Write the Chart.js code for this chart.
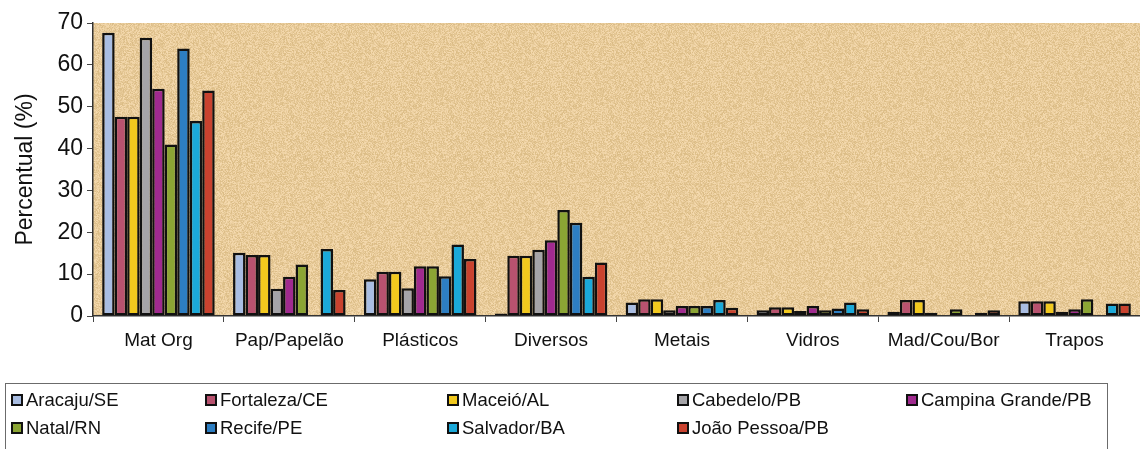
<!DOCTYPE html>
<html>
<head>
<meta charset="utf-8">
<title>Composição gravimétrica dos resíduos</title>
<script src="https://cdn.jsdelivr.net/npm/chart.js@4/dist/chart.umd.min.js"></script>
<style>
  html, body { margin: 0; padding: 0; background: #ffffff; }
  #wrap { width: 1140px; height: 449px; position: relative; }
</style>
</head>
<body>
<div id="wrap"><canvas id="c" width="1140" height="449"></canvas></div>
<script>
// Waste categories (x axis)
const categories = ['Mat Org', 'Pap/Papelão', 'Plásticos', 'Diversos', 'Metais', 'Vidros', 'Mad/Cou/Bor', 'Trapos'];

// Percentage per city, one value per category (null = not reported)
const aracaju       = [67.7, 15.1,  8.8,  0.6, 3.2, 1.4, 1.0, 3.5];
const fortaleza     = [47.6, 14.6, 10.6, 14.4, 4.0, 2.1, 3.8, 3.5];
const maceio        = [47.6, 14.6, 10.6, 14.4, 4.0, 2.1, 3.8, 3.5];
const cabedelo      = [66.5,  6.5,  6.6, 15.8, 1.4, 1.2, 0.8, 1.0];
const campinaGrande = [54.3,  9.4, 11.9, 18.1, 2.4, 2.4, null, 1.6];
const natal         = [41.0, 12.3, 11.9, 25.3, 2.4, 1.4, 1.6, 4.0];
const recife        = [63.9, null,  9.5, 22.3, 2.4, 1.8, null, null];
const salvador      = [46.6, 16.0, 17.1,  9.4, 3.8, 3.2, 0.8, 3.0];
const joaoPessoa    = [53.9,  6.2, 13.6, 12.8, 2.0, 1.6, 1.4, 3.0];

const cityNames  = ['Aracaju/SE', 'Fortaleza/CE', 'Maceió/AL', 'Cabedelo/PB', 'Campina Grande/PB',
                    'Natal/RN', 'Recife/PE', 'Salvador/BA', 'João Pessoa/PB'];
const cityValues = [aracaju, fortaleza, maceio, cabedelo, campinaGrande, natal, recife, salvador, joaoPessoa];
const cityColors = ['#a9bde2', '#b8526f', '#f2c91e', '#a5a4a8', '#a02a8f',
                    '#8ba534', '#2d7ec2', '#1ba9d9', '#c9422f'];

// Y axis ticks
const yTicks = [0, 10, 20, 30, 40, 50, 60, 70];

const FONT = "'Liberation Sans', Arial, sans-serif";

// Speckled parchment fill for the plot area
function makeParchment() {
  const size = 160;
  const cv = document.createElement('canvas');
  cv.width = size; cv.height = size;
  const g = cv.getContext('2d');
  const img = g.createImageData(size, size);
  for (let y = 0; y < size; y++) {
    for (let x = 0; x < size; x++) {
      let h = (x * 374761393 + y * 668265263) | 0;
      h = Math.imul(h ^ (h >>> 13), 1274126177);
      h = (h ^ (h >>> 16)) >>> 0;
      const n = (h % 1000) / 1000 - 0.5;
      const i = (y * size + x) * 4;
      img.data[i]     = 232 + n * 28;
      img.data[i + 1] = 203 + n * 32;
      img.data[i + 2] = 154 + n * 44;
      img.data[i + 3] = 255;
    }
  }
  g.putImageData(img, 0, 0);
  return cv;
}

const parchmentPlugin = {
  id: 'parchment',
  beforeDraw(chart) {
    const { ctx, chartArea: a } = chart;
    ctx.save();
    ctx.fillStyle = ctx.createPattern(makeParchment(), 'repeat');
    ctx.fillRect(a.left, a.top, a.right - a.left, a.bottom - a.top);
    ctx.restore();
  }
};

// Two-row legend in a framed box below the axis
const boxLegendPlugin = {
  id: 'boxLegend',
  afterDraw(chart) {
    const ctx = chart.ctx;
    const colX = [11, 205, 447, 677, 906];
    const rowY = [400, 428];
    ctx.save();
    ctx.strokeStyle = '#6b6b6b';
    ctx.lineWidth = 1;
    ctx.strokeRect(5.5, 383.5, 1102, 80);
    ctx.font = '18.5px ' + FONT;
    ctx.textBaseline = 'middle';
    chart.data.datasets.forEach((ds, i) => {
      const x = colX[i % 5];
      const y = rowY[Math.floor(i / 5)];
      ctx.fillStyle = '#111';
      ctx.fillRect(x, y - 6, 12, 12);
      ctx.fillStyle = ds.backgroundColor;
      ctx.fillRect(x + 2, y - 4, 8, 8);
      ctx.fillStyle = '#111';
      ctx.fillText(ds.label, x + 15, y + 1);
    });
    ctx.restore();
  }
};

const datasets = cityNames.map((name, i) => ({
  label: name,
  data: cityValues[i],
  backgroundColor: cityColors[i],
  borderColor: '#111111',
  borderWidth: 2.5,
  borderSkipped: false,
  categoryPercentage: 0.86,
  barPercentage: 1.0
}));

new Chart(document.getElementById('c'), {
  type: 'bar',
  data: { labels: categories, datasets },
  options: {
    responsive: false,
    animation: false,
    layout: { padding: { top: 23, right: 0, bottom: 89, left: 0 } },
    plugins: {
      legend: { display: false },
      tooltip: { enabled: false }
    },
    scales: {
      x: {
        grid: { display: true, drawOnChartArea: false, drawTicks: true, tickLength: 6, color: '#444', offset: true },
        border: { display: true, color: '#333', width: 1.5 },
        ticks: { color: '#111', font: { family: FONT, size: 19 }, padding: 7, maxRotation: 0, autoSkip: false },
        afterFit(scale) { scale.height = 44; }
      },
      y: {
        min: 0,
        max: 70,
        afterBuildTicks(scale) { scale.ticks = yTicks.map(v => ({ value: v })); },
        grid: { display: true, drawOnChartArea: false, drawTicks: true, tickLength: 6, color: '#444' },
        border: { display: true, color: '#333', width: 1.5 },
        ticks: { color: '#111', font: { family: FONT, size: 23 }, padding: 4 },
        title: { display: true, text: 'Percentual (%)', color: '#111', font: { family: FONT, size: 23 }, padding: { top: 12, bottom: 0 } },
        afterFit(scale) { scale.width = 93; }
      }
    }
  },
  plugins: [parchmentPlugin, boxLegendPlugin]
});
</script>
</body>
</html>
